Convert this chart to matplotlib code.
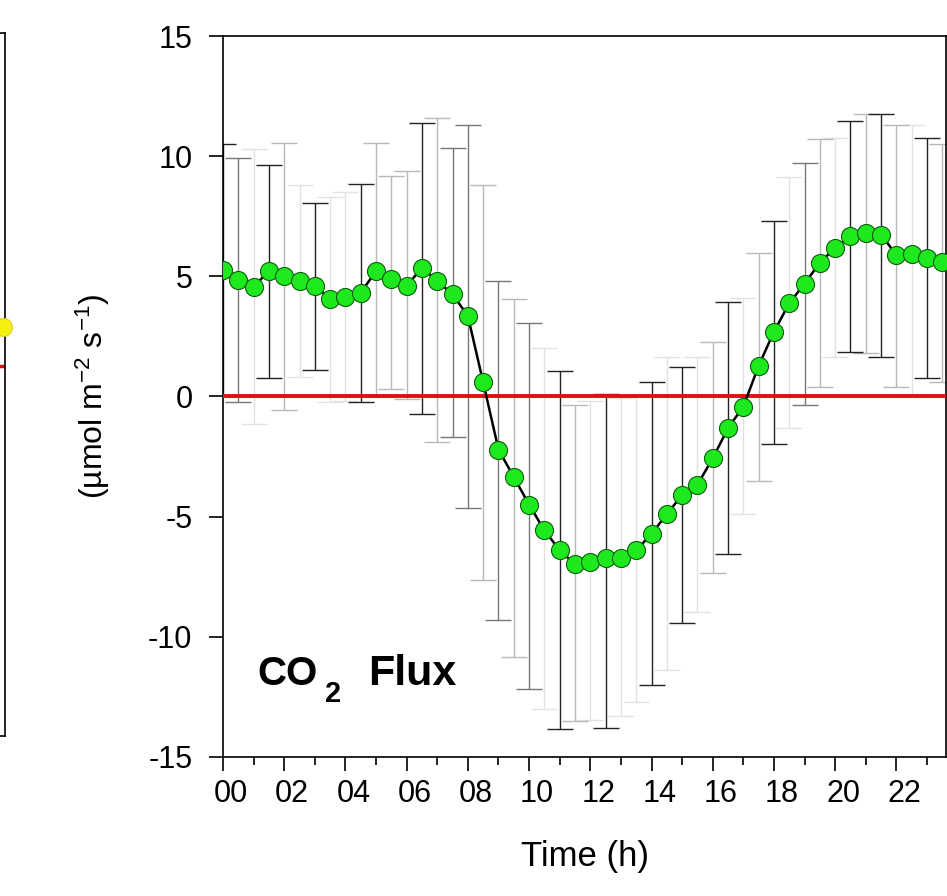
import numpy as np
import matplotlib
matplotlib.use('Agg')
import matplotlib.pyplot as plt
import matplotlib.transforms as mtransforms
from matplotlib.ticker import MultipleLocator

plt.rcParams['font.family'] = ['Liberation Sans', 'DejaVu Sans']
plt.rcParams['mathtext.fontset'] = 'custom'
plt.rcParams['mathtext.rm'] = 'Liberation Sans'
plt.rcParams['mathtext.it'] = 'Liberation Sans:italic'
plt.rcParams['mathtext.bf'] = 'Liberation Sans:bold'
plt.rcParams['axes.unicode_minus'] = False

# half-hourly mean CO2 flux with error bar ends
hours = np.arange(48) * 0.5
flux_mean = [5.26, 4.83, 4.57, 5.22, 5.01, 4.81, 4.60, 4.05, 4.16, 4.32,
             5.22, 4.88, 4.60, 5.36, 4.81, 4.25, 3.35, 0.59, -2.21, -3.35,
             -4.50, -5.57, -6.40, -6.98, -6.88, -6.74, -6.70, -6.40, -5.71, -4.90,
             -4.09, -3.67, -2.57, -1.31, -0.42, 1.28, 2.70, 3.88, 4.70, 5.57,
             6.19, 6.67, 6.81, 6.74, 5.88, 5.94, 5.78, 5.61]
flux_upper = [10.52, 9.93, 10.3, 9.64, 10.55, 8.8, 8.06, 8.29, 8.5, 8.83,
              10.55, 9.19, 9.37, 11.38, 11.58, 10.32, 11.29, 8.78, 4.81, 4.04,
              3.07, 2.0, 1.07, -0.35, -0.2, 0.1, -0.05, 0.0, 0.59, 1.63,
              1.21, 1.63, 2.25, 3.95, 4.1, 5.97, 7.32, 9.13, 9.70, 10.70,
              10.75, 11.46, 11.77, 11.77, 11.29, 11.3, 10.75, 10.5]
flux_lower = [0.0, -0.21, -1.14, 0.75, -0.56, 0.80, 1.10, -0.21, -0.2, -0.21,
              0.0, 0.31, -0.12, -0.72, -1.91, -1.70, -4.66, -7.65, -9.30, -10.84,
              -12.19, -13.0, -13.84, -13.5, -13.45, -13.8, -13.3, -12.72, -12.0, -11.4,
              -9.44, -8.96, -7.34, -6.56, -4.90, -3.52, -1.97, -1.30, -0.37, 0.40,
              1.63, 1.86, 1.80, 1.66, 0.40, 0.0, 0.79, 0.62]
# k = black, g = mid grey, l = light grey, v = very light grey
bar_shade = list('kgvklvkvvk'
                 'lllklgglgl'
                 'gvklvkvvkv'
                 'kvlkvlkvgl'
                 'vklklvkl')

shade_colors = {'k': '#222222', 'g': '#777777', 'l': '#b8b8b8', 'v': '#e2e2e2'}

hour_ticks = np.arange(0, 24, 2)
hour_labels = ['%02d' % h for h in hour_ticks]

fig = plt.figure(figsize=(9.47, 8.96), dpi=100)

# edge of the neighbouring panel
left_ylim = (-1.0, 0.9)
left_point = 0.106
axl = fig.add_axes([-0.5, 1 - 736 / 896, 0.5053, 703 / 896])
axl.set_xlim(0, 23.6)
axl.set_ylim(*left_ylim)
axl.axhline(0, color='#e01010', lw=2.5)
axl.plot([23.5], [left_point], 'o', ms=13, color='#f5f010', mec='#c8c000',
         mew=0.5, clip_on=False, zorder=5)
axl.set_xticks([])
axl.set_yticks([])
for s in axl.spines.values():
    s.set_linewidth(1.2)

ax = fig.add_axes([223 / 947, 1 - 757 / 896, 723 / 947, 721 / 896])
ax.set_xlim(0, 23.62)
ax.set_ylim(-15, 15)

mean = np.array(flux_mean)
up = np.array(flux_upper)
lo = np.array(flux_lower)
shade = np.array(bar_shade)
for key in ['v', 'l', 'g', 'k']:
    m = shade == key
    ax.errorbar(hours[m], mean[m], yerr=[mean[m] - lo[m], up[m] - mean[m]],
                fmt='none', ecolor=shade_colors[key], elinewidth=1.0,
                capsize=9.5, capthick=1.0, zorder=2)

ax.axhline(0, color='#e01010', lw=2.8, zorder=3)
ax.plot(hours, mean, '-', color='black', lw=1.8, zorder=4)
ax.plot(hours, mean, 'o', ms=13, color='#1ee81e', mec='#0b5e0b', mew=0.8,
        linestyle='none', zorder=5)

ax.set_yticks(np.arange(-15, 16, 5))
ax.set_xticks(hour_ticks)
ax.set_xticklabels(hour_labels)
ax.xaxis.set_minor_locator(MultipleLocator(1))
ax.tick_params(axis='both', which='major', direction='out', length=10,
               width=1.2, labelsize=22)
ax.tick_params(axis='y', pad=12)
ax.tick_params(axis='x', pad=6)
ax.tick_params(axis='x', which='minor', direction='out', length=6, width=1.2)
shift = mtransforms.ScaledTranslation(8 / 100, 0, fig.dpi_scale_trans)
for lab in ax.get_xticklabels():
    lab.set_transform(lab.get_transform() + shift)
for s in ax.spines.values():
    s.set_linewidth(1.2)

ax.set_xlabel('Time (h)', fontsize=25, labelpad=22)
ax.set_ylabel('(µmol m$^{-2}$ s$^{-1}$)', fontsize=23, labelpad=26)

# panel title, subscript set by hand so it sits low like the original
ax.text(0.047, 0.1, 'CO', transform=ax.transAxes, fontsize=29,
        fontweight='bold', va='baseline', ha='left')
ax.text(0.1415, 0.0763, '2', transform=ax.transAxes, fontsize=21,
        fontweight='bold', va='baseline', ha='left')
ax.text(0.2006, 0.1, 'Flux', transform=ax.transAxes, fontsize=31,
        fontweight='bold', va='baseline', ha='left')

fig.savefig('out.png', dpi=100)
